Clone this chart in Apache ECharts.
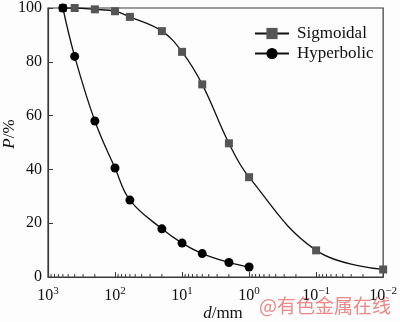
<!DOCTYPE html>
<html>
<head>
<meta charset="utf-8">
<style>
  html, body { margin: 0; padding: 0; background: #fff; }
  #chart { width: 400px; height: 322px; }
</style>
<script src="https://cdn.jsdelivr.net/npm/echarts@6/dist/echarts.min.js"></script>
</head>
<body>
<div id="chart"></div>
<script>
// Particle size d (mm) and cumulative passing P (%)
const sigmoidalD = [600, 400, 200, 100, 60, 20, 10, 5, 2, 1, 0.1, 0.01];
const sigmoidalP = [100, 100, 99.5, 98.8, 96.7, 91.4, 83.7, 71.6, 49.7, 37.1, 9.9, 2.8];
const hyperbolicD = [600, 400, 200, 100, 60, 20, 10, 5, 2, 1];
const hyperbolicP = [100, 82, 58, 40.5, 28.6, 17.9, 12.6, 8.7, 5.4, 3.7];

const yTicks = [0, 20, 40, 60, 80, 100];
const decades = [1000, 100, 10, 1, 0.1, 0.01];

// Minor log ticks (2..9 within each decade), placed on the bottom axis
const minorTicks = [];
decades.slice(1).forEach(function (base) {
  for (let k = 2; k <= 9; k++) minorTicks.push([+(base * k).toPrecision(3), 0]);
});

const FONT = '"Liberation Serif", "Times New Roman", serif';
const AXIS_COLOR = '#3a3a3a';

const chart = echarts.init(document.getElementById('chart'), null, { renderer: 'canvas' });

function pairs(xs, ys) { return xs.map(function (x, i) { return [x, ys[i]]; }); }

chart.setOption({
  animation: false,
  backgroundColor: '#fdfdfd',
  grid: {
    left: 48, right: 12, top: 5, bottom: 45,
    show: true, borderColor: AXIS_COLOR, borderWidth: 1.2, backgroundColor: 'transparent'
  },
  legend: {
    left: 249, top: 20, orient: 'vertical',
    itemWidth: 34, itemHeight: 14, itemGap: 3,
    data: ['Sigmoidal', 'Hyperbolic'],
    textStyle: { fontFamily: FONT, fontSize: 17, color: '#111', padding: [0, 0, 0, 3] }
  },
  xAxis: {
    type: 'log', logBase: 10, min: 0.01, max: 1000, inverse: true,
    axisLine: { lineStyle: { color: AXIS_COLOR, width: 1.2 } },
    axisTick: { inside: true, length: 5, lineStyle: { color: AXIS_COLOR, width: 1 } },
    splitLine: { show: false },
    axisLabel: {
      margin: 9,
      fontFamily: FONT,
      formatter: function (v) {
        const e = Math.round(Math.log10(v));
        return '{b|10}{s|' + (e < 0 ? '\u2212' + (-e) : e) + '}';
      },
      rich: {
        b: { fontFamily: FONT, fontSize: 16, color: '#111' },
        s: { fontFamily: FONT, fontSize: 11, color: '#111', verticalAlign: 'top', padding: [0, 0, 8, 0] }
      }
    }
  },
  yAxis: {
    type: 'value', min: 0, max: 100, interval: 20,
    axisLine: { show: true, lineStyle: { color: AXIS_COLOR, width: 1.2 } },
    axisTick: { show: true, inside: true, length: 5, lineStyle: { color: AXIS_COLOR, width: 1 } },
    splitLine: { show: false },
    axisLabel: { margin: 6, fontFamily: FONT, fontSize: 16, color: '#111' }
  },
  series: [
    {
      name: 'Sigmoidal', type: 'line', smooth: 0.4,
      data: pairs(sigmoidalD, sigmoidalP),
      symbol: 'rect', symbolSize: 8,
      itemStyle: { color: '#555555' },
      lineStyle: { color: '#111', width: 1.3 },
      z: 2
    },
    {
      name: 'Hyperbolic', type: 'line', smooth: 0.4,
      data: pairs(hyperbolicD, hyperbolicP),
      symbol: 'circle', symbolSize: 9,
      itemStyle: { color: '#000' },
      lineStyle: { color: '#111', width: 1.3 },
      z: 3
    },
    {
      name: 'minorTicks', type: 'custom', silent: true, clip: false,
      data: minorTicks,
      encode: { x: 0, y: 1 },
      renderItem: function (params, api) {
        const p = api.coord([api.value(0), api.value(1)]);
        return {
          type: 'line',
          shape: { x1: p[0], y1: p[1], x2: p[0], y2: p[1] - 3 },
          style: { stroke: AXIS_COLOR, lineWidth: 1 }
        };
      },
      z: 5
    }
  ],
  graphic: [
    {
      type: 'text', x: 10, y: 134, rotation: Math.PI / 2,
      style: {
        text: '{i|P}/%', align: 'center', verticalAlign: 'middle',
        rich: {
          i: { fontFamily: FONT, fontSize: 17, fontStyle: 'italic', fill: '#111' }
        },
        font: '17px ' + FONT, fill: '#111'
      }
    },
    {
      type: 'text', x: 223, y: 314,
      style: {
        text: '{i|d}/mm', align: 'center', verticalAlign: 'middle',
        rich: {
          i: { fontFamily: FONT, fontSize: 17, fontStyle: 'italic', fill: '#111' }
        },
        font: '17px ' + FONT, fill: '#111'
      }
    },
    {
      type: 'text', x: 259, y: 306,
      style: {
        text: '@有色金属在线', align: 'left', verticalAlign: 'middle',
        font: '19px "Noto Sans CJK SC", sans-serif', fill: '#ec8888'
      }
    }
  ]
});
</script>
</body>
</html>
